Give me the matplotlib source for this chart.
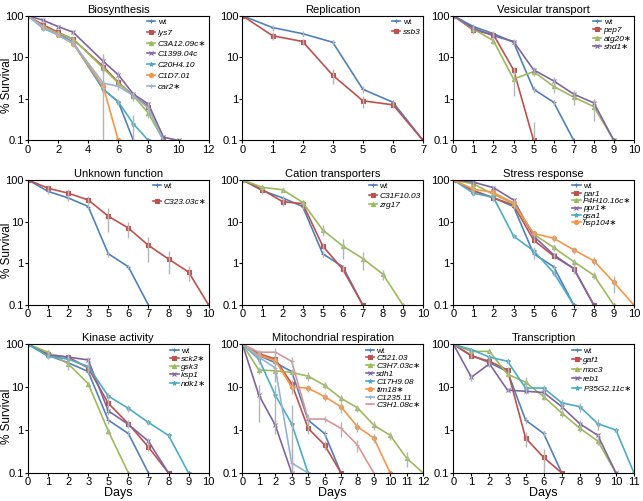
import matplotlib.pyplot as plt

plt.rcParams['font.family'] = ['Liberation Sans', 'DejaVu Sans']

# colours and markers in series order (Excel style)
colors = ['#4F81BD', '#C0504D', '#9BBB59', '#8064A2', '#4BACC6', '#F79646', '#95B3D7', '#D99694']
markers = ['+', 's', '^', 'x', '*', 'o', '+', '_']

# ---- Biosynthesis (numeric days) ----
bio_days = [0, 1, 2, 3, 5, 6, 7, 8, 9, 10]
bio_names = ['wt', 'lys7', 'C3A12.09c∗', 'C1399.04c', 'C20H4.10', 'C1D7.01', 'car2∗']
bio_vals = [
    [100, 55, 37, 23, 1.7, 0.85, 0.1],
    [100, 60, 40, 27, 6, 2.5, 1.2, 0.65, 0.1],
    [100, 55, 38, 28, 5.5, 2.4, 1.2, 0.45, 0.1],
    [100, 78, 55, 40, 8, 3.8, 1.3, 0.75, 0.12, 0.1],
    [100, 50, 35, 22, 1.7, 0.85, 0.25, 0.1],
    [100, 55, 35, 21, 2, 0.1],
    [100, 52, 34, 22, 2.4, 2.0, 1.2, 0.6, 0.1],
]
bio_err = [
    [0, 8, 5, 3, 0.3, 0.12, 0],
    [0, 6, 5, 3, 1, 0.5, 0.3, 0.15, 0],
    [0, 6, 5, 3, 1, 0.4, 0.2, 0.1, 0],
    [0, 8, 6, 5, 4, 1, 0.2, 0.1, 0, 0],
    [0, 6, 4, 3, 0.3, 0.1, 0.15, 0],
    [0, 6, 4, 3, 8, 0],
    [0, 6, 4, 3, 0.5, 0.4, 0.2, 0.1, 0],
]

# ---- Replication ----
rep_days = [0, 1, 2, 3, 5, 6, 7]
rep_names = ['wt', 'ssb3']
rep_vals = [
    [100, 52, 37, 23, 1.7, 0.83, 0.1],
    [100, 33, 24, 3.7, 0.9, 0.72, 0.1],
]
rep_err = [
    [0, 8, 5, 3, 0.3, 0.1, 0],
    [0, 7, 4, 1.4, 0.3, 0.1, 0],
]

# ---- Vesicular transport ----
ves_days = [0, 1, 2, 3, 5, 6, 7, 8, 9, 10]
ves_names = ['wt', 'pep7', 'atg20∗', 'shd1∗']
ves_vals = [
    [100, 55, 37, 23, 1.7, 0.83, 0.1],
    [100, 45, 35, 5, 0.1],
    [100, 48, 25, 3, 4.5, 2, 1.1, 0.65, 0.1],
    [100, 50, 33, 24, 5, 2.7, 1.3, 0.8, 0.1],
]
ves_err = [
    [0, 8, 5, 3, 0.3, 0.12, 0],
    [0, 8, 5, 1, 0.18],
    [0, 6, 4, 1.8, 1, 0.6, 0.4, 0.35, 0],
    [0, 6, 4, 4, 1, 0.6, 0.3, 0.2, 0],
]

# ---- Unknown function ----
unk_days = [0, 1, 2, 3, 5, 6, 7, 8, 9, 10]
unk_names = ['wt', 'C323.03c∗']
unk_vals = [
    [100, 53, 37, 23, 1.7, 0.83, 0.1],
    [100, 63, 48, 33, 13.5, 7, 2.7, 1.27, 0.62, 0.1],
]
unk_err = [
    [0, 8, 5, 3, 0.3, 0.1, 0],
    [0, 12, 12, 7, 8, 3, 1.6, 0.7, 0.25, 0],
]

# ---- Cation transporters ----
cat_days = [0, 1, 2, 3, 5, 6, 7, 8, 9, 10]
cat_names = ['wt', 'C31F10.03', 'zrg17']
cat_vals = [
    [100, 55, 37, 23, 1.7, 0.83, 0.1],
    [100, 58, 30, 27, 2.6, 0.72, 0.1],
    [100, 66, 58, 29, 6.3, 2.6, 1.3, 0.55, 0.1],
]
cat_err = [
    [0, 8, 5, 3, 0.3, 0.1, 0],
    [0, 6, 6, 4, 0.4, 0.1, 0],
    [0, 6, 6, 3, 1.8, 1.3, 0.6, 0.15, 0],
]

# ---- Stress response ----
str_days = [0, 1, 2, 3, 5, 6, 7, 8, 9, 10]
str_names = ['wt', 'par1', 'P4H10.16c∗', 'ppr1∗', 'gsa1', 'hsp104∗']
str_vals = [
    [100, 55, 37, 23, 1.7, 0.83, 0.1],
    [100, 55, 37, 25, 3.6, 1.5, 0.75, 0.1],
    [100, 80, 45, 27, 5, 2.4, 1.1, 0.52, 0.1],
    [100, 88, 65, 33, 4.5, 1.6, 0.75, 0.1],
    [100, 48, 38, 4.5, 2, 0.6, 0.1],
    [100, 60, 50, 28, 5.2, 4, 2.1, 1.15, 0.35, 0.1],
]
str_err = [
    [0, 8, 5, 3, 0.4, 0.1, 0],
    [0, 6, 5, 3, 0.5, 0.2, 0.2, 0],
    [0, 8, 5, 3, 0.6, 0.4, 0.2, 0.1, 0],
    [0, 8, 6, 4, 0.5, 0.2, 0.1, 0],
    [0, 8, 5, 0.5, 0.4, 0.1, 0],
    [0, 12, 5, 3, 0.6, 0.8, 0.4, 0.25, 0.15, 0],
]

# ---- Kinase activity ----
kin_days = [0, 1, 2, 3, 5, 6, 7, 8, 9, 10]
kin_names = ['wt', 'sck2∗', 'gsk3', 'ksp1', 'ndk1∗']
kin_vals = [
    [100, 55, 37, 23, 1.7, 0.83, 0.1],
    [100, 58, 50, 28, 4.2, 1.4, 0.4, 0.1],
    [100, 65, 35, 12, 0.95, 0.1],
    [100, 55, 50, 43, 2.8, 1.35, 0.55, 0.1],
    [100, 52, 45, 30, 6.2, 3.2, 1.5, 0.75, 0.1],
]
kin_err = [
    [0, 8, 5, 3, 0.3, 0.1, 0],
    [0, 8, 8, 5, 1, 0.3, 0.08, 0],
    [0, 8, 10, 1, 0.15, 0],
    [0, 8, 6, 8, 0.5, 0.2, 0.1, 0],
    [0, 8, 6, 4, 1, 0.6, 0.2, 0.08, 0],
]

# ---- Mitochondrial respiration ----
mit_days = [0, 1, 2, 3, 5, 6, 7, 8, 9, 10, 11, 12]
mit_names = ['wt', 'C521.03', 'C3H7.03c∗', 'sdh1', 'C17H9.08', 'tim18∗', 'C1235.11', 'C3H1.08c∗']
mit_vals = [
    [100, 55, 37, 23, 1.7, 0.83, 0.1],
    [100, 60, 45, 12, 1.1, 0.45, 0.1],
    [100, 25, 24, 22, 18, 11, 5.5, 3.3, 1.3, 0.75, 0.22, 0.1],
    [100, 6.5, 1.3, 0.1],
    [100, 45, 6.5, 1.4, 0.1],
    [100, 55, 42, 10, 9.5, 6, 3.5, 1.2, 0.65, 0.1],
    [100, 50, 28, 0.17, 0.1],
    [100, 65, 65, 40, 1.8, 1.8, 1.1, 0.45, 0.1],
]
mit_err = [
    [0, 8, 5, 3, 0.3, 0.1, 0],
    [0, 10, 8, 3, 0.3, 0.1, 0],
    [0, 5, 4, 4, 4, 2, 1, 0.6, 0.3, 0.15, 0.08, 0],
    [0, 5, 0.5, 0],
    [0, 10, 5, 2.5, 0],
    [0, 10, 8, 3, 2, 1.3, 1, 0.3, 0.15, 0],
    [0, 10, 15, 0.2, 0],
    [0, 10, 15, 10, 0.6, 0.3, 0.4, 0.15, 0],
]

# ---- Transcription ----
trn_days = [0, 1, 2, 3, 5, 6, 7, 8, 9, 10, 11]
trn_names = ['wt', 'gaf1', 'moc3', 'reb1', 'P35G2.11c∗']
trn_vals = [
    [100, 55, 37, 23, 1.7, 0.83, 0.1],
    [100, 53, 40, 25, 0.65, 0.23, 0.1],
    [100, 68, 68, 20, 13, 6, 2.5, 1.1, 0.55, 0.1],
    [100, 17, 35, 8.5, 8, 7.5, 3.5, 1.4, 0.75, 0.1],
    [100, 75, 50, 40, 9.5, 9.5, 4.3, 3.5, 1.4, 1.0, 0.1],
]
trn_err = [
    [0, 8, 5, 3, 0.3, 0.1, 0],
    [0, 6, 5, 4, 0.25, 0.13, 0],
    [0, 8, 6, 3, 4, 1, 0.5, 0.2, 0.1, 0],
    [0, 3, 6, 1, 1, 1, 0.5, 0.3, 0.1, 0],
    [0, 8, 6, 4, 1.5, 1.5, 1, 0.8, 0.4, 0.1, 0],
]

panels = [
    ('Biosynthesis', bio_days, bio_names, bio_vals, bio_err, True, 0.35),
    ('Replication', rep_days, rep_names, rep_vals, rep_err, False, 0.25),
    ('Vesicular transport', ves_days, ves_names, ves_vals, ves_err, False, 0.05),
    ('Unknown function', unk_days, unk_names, unk_vals, unk_err, False, 1.0),
    ('Cation transporters', cat_days, cat_names, cat_vals, cat_err, False, 0.2),
    ('Stress response', str_days, str_names, str_vals, str_err, False, -0.05),
    ('Kinase activity', kin_days, kin_names, kin_vals, kin_err, False, 0.05),
    ('Mitochondrial respiration', mit_days, mit_names, mit_vals, mit_err, False, 0.0),
    ('Transcription', trn_days, trn_names, trn_vals, trn_err, False, 0.2),
]

fig = plt.figure(figsize=(6.43, 5.01), dpi=100)
lefts = [0.0435, 0.377, 0.705]
bottoms = [0.7196, 0.391, 0.056]
heights = [0.249, 0.25, 0.257]
width = 0.281

for i, (title, days, names, vals, errs, numeric, lspace) in enumerate(panels):
    row, col = divmod(i, 3)
    ax = fig.add_axes([lefts[col], bottoms[row], width, heights[row]])
    for j, (name, v, e) in enumerate(zip(names, vals, errs)):
        if numeric:
            x = days[:len(v)]
        else:
            x = list(range(len(v)))
        ax.errorbar(x, v, yerr=e, fmt='none', ecolor='#b5b5b5', elinewidth=1, capsize=0, zorder=3)
        ax.plot(x, v, color=colors[j], marker=markers[j], markersize=3, markeredgewidth=0.8,
                lw=1.2, label=name, zorder=2)
    ax.set_yscale('log')
    ax.set_ylim(0.1, 100)
    ax.set_yticks([0.1, 1, 10, 100])
    ax.set_yticklabels(['0.1', '1', '10', '100'])
    ax.minorticks_off()
    if numeric:
        ax.set_xlim(0, 12)
        ax.set_xticks(range(0, 13, 2))
    else:
        ax.set_xlim(0, len(days) - 1)
        ax.set_xticks(range(len(days)))
        ax.set_xticklabels([str(d) for d in days])
    ax.tick_params(labelsize=8, length=2, pad=1)
    ax.set_title(title, fontsize=8, pad=2)
    if col == 0:
        ax.set_ylabel('% Survival', fontsize=8.5)
        ax.yaxis.set_label_coords(-0.085, 0.44)
    if row == 2:
        ax.set_xlabel('Days', fontsize=9, labelpad=0)
    leg = ax.legend(loc='upper right', frameon=False, fontsize=6, handlelength=1.0,
                    handletextpad=0.3, labelspacing=lspace, borderaxespad=0.2,
                    borderpad=0.1)
    for t in leg.get_texts():
        if t.get_text() != 'wt':
            t.set_style('italic')

fig.savefig('out.png', dpi=100)
